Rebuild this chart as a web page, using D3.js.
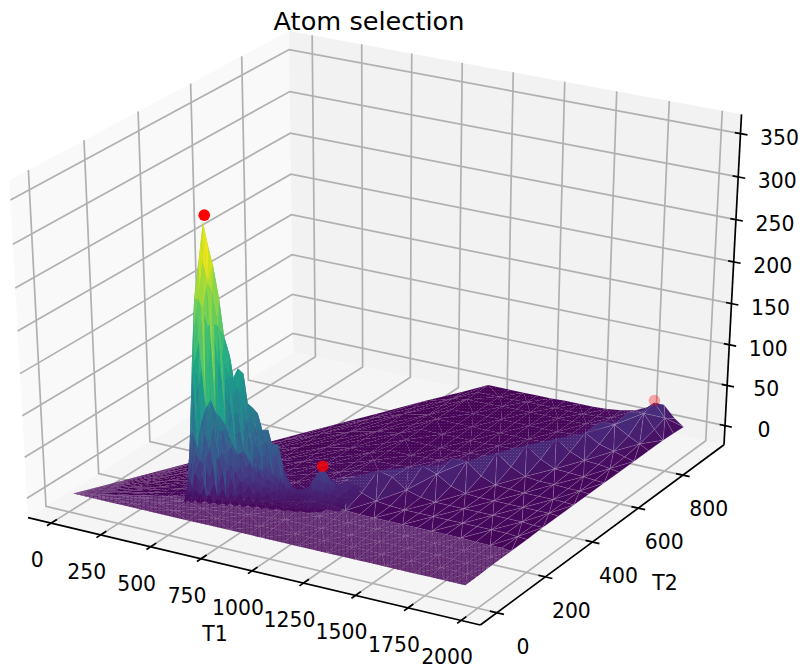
<!DOCTYPE html>
<html>
<head>
<meta charset="utf-8">
<script src="https://cdn.jsdelivr.net/npm/d3@7"></script>
<style>
  html, body { margin: 0; padding: 0; background: #fff; }
  text { font-family: "DejaVu Sans", sans-serif; fill: #000; }
</style>
</head>
<body>
<div id="chart"></div>
<script>
const titleText = "Atom selection";
const t1Ticks = [0, 250, 500, 750, 1000, 1250, 1500, 1750, 2000];
const t2Ticks = [0, 200, 400, 600, 800];
const zTicks = [0, 50, 100, 150, 200, 250, 300, 350];

// Flat sheet with the broad ridge: a column per T1, a row per share of the T2 reach
const t1Cols = [25, 100, 200, 300, 400, 500, 600, 700, 800, 900, 960, 1070, 1140, 1210, 1280, 1350, 1420, 1490, 1560, 1630, 1700, 1770, 1840, 1895, 1940];
const t2Reach = [0, 76, 177, 279, 380, 481, 583, 684, 786, 880, 940, 940, 940, 940, 940, 940, 940, 940, 940, 940, 940, 940, 940, 940, 940];
const t2Shares = [0, .05, .1, .15, .2, .27, .34, .41, .48, .55, .62, .69, .76, .83, .9, .95, 1];
const sheetZ = [
  [0, 0, 0, 0, 0, 0, 0, 0, 0, 0, 0, 0, 0, 0, 0, 0, 0],
  [0, 0, 1, 1, 1, 0, 0, 0, 0, 0, 0, 0, 0, 0, 0, 0, 0],
  [0, 1, 1, 2, 1, 1, 0, 0, 0, 0, 0, 0, 0, 0, 0, 0, 0],
  [0, 1, 2, 2, 2, 1, 1, 0, 0, 0, 0, 0, 0, 0, 0, 0, 0],
  [0, 1, 2, 2, 2, 2, 1, 1, 0, 0, 0, 0, 0, 0, 0, 0, 0],
  [0, 1, 2, 3, 3, 2, 2, 1, 1, 0, 0, 0, 0, 0, 0, 0, 0],
  [0, 1, 2, 3, 3, 3, 2, 2, 1, 1, 0, 0, 0, 0, 0, 0, 0],
  [0, 1, 2, 3, 3, 3, 2, 2, 1, 1, 1, 0, 0, 0, 0, 0, 0],
  [0, 1, 2, 3, 3, 3, 3, 2, 2, 1, 1, 1, 0, 0, 0, 0, 0],
  [0, 1, 2, 3, 4, 4, 3, 2, 2, 1, 1, 1, 0, 0, 0, 0, 0],
  [0, 1, 2, 3, 6, 13, 7, 3, 2, 1, 1, 1, 1, 0, 0, 0, 0],
  [0, 1, 2, 3, 7, 24, 13, 5, 2, 1, 1, 1, 1, 1, 0, 0, 0],
  [0, 1, 2, 3, 4, 12, 26, 11, 4, 2, 1, 1, 1, 1, 1, 0, 0],
  [0, 1, 2, 3, 3, 6, 22, 20, 7, 3, 1, 1, 1, 1, 1, 1, 0],
  [0, 1, 2, 3, 3, 4, 10, 26, 12, 4, 2, 1, 1, 1, 1, 1, 0],
  [0, 1, 2, 3, 3, 3, 5, 20, 26, 8, 3, 2, 1, 1, 1, 1, 1],
  [0, 1, 2, 3, 3, 3, 3, 9, 26, 16, 5, 2, 1, 1, 1, 1, 1],
  [0, 1, 2, 3, 3, 3, 3, 4, 12, 27, 11, 4, 2, 1, 1, 1, 1],
  [0, 1, 2, 3, 3, 3, 3, 3, 5, 14, 27, 9, 3, 2, 2, 2, 2],
  [0, 1, 2, 2, 3, 3, 3, 3, 4, 6, 14, 26, 14, 5, 4, 4, 4],
  [0, 1, 2, 2, 3, 3, 3, 3, 3, 4, 6, 14, 24, 25, 10, 7, 8],
  [0, 1, 1, 2, 2, 3, 3, 3, 3, 4, 5, 7, 14, 25, 28, 18, 16],
  [0, 1, 1, 2, 2, 3, 3, 3, 3, 3, 4, 6, 9, 15, 30, 34, 22],
  [0, 1, 1, 1, 2, 2, 2, 3, 3, 3, 3, 4, 5, 8, 13, 18, 8],
  [0, 0, 1, 1, 1, 1, 2, 2, 2, 2, 2, 2, 2, 2, 2, 1, 0]
];
// Rows below this index (and above row 4) show the wide triangles of the reference
const wideMeshTop = [4, 4, 4, 4, 4, 4, 4, 4, 4, 4, 4, 5, 6, 6, 7, 8, 8, 9, 10, 11, 13, 14, 16, 17, 17];

// The tall narrow peak and the small hill next to it
const spikeT1 = [480, 490, 503, 515, 530, 552, 572, 590, 607, 627, 643, 664, 676, 694, 716, 730, 750, 769, 786, 809, 823, 848, 867, 894, 918, 943, 970, 995, 1023, 1050, 1075, 1100, 1130];
const spikeT2Ratio = [.155, .158, .161, .164, .167, .17, .174, .18, .19, .21, .235];
const spikeZ = [
  [0, 0, 0, 0, 0, 0, 0, 0, 0, 0, 0],
  [0, 2, 4, 7, 11, 15, 20, 25, 30, 12, 0],
  [2, 6, 12, 22, 34, 48, 62, 76, 90, 35, 0],
  [0, 6, 14, 30, 50, 80, 110, 140, 170, 60, 2],
  [3, 16, 36, 62, 95, 130, 165, 205, 240, 90, 0],
  [0, 10, 25, 50, 90, 140, 190, 240, 285, 110, 3],
  [4, 22, 50, 85, 130, 180, 230, 285, 328, 120, 0],
  [0, 12, 30, 65, 110, 160, 210, 260, 300, 105, 2],
  [3, 26, 55, 95, 135, 175, 215, 250, 278, 100, 0],
  [0, 10, 25, 55, 90, 130, 170, 210, 241, 90, 2],
  [3, 20, 40, 62, 88, 115, 145, 175, 198, 75, 0],
  [0, 8, 20, 42, 65, 95, 125, 152, 175, 60, 3],
  [4, 18, 32, 50, 70, 92, 112, 132, 150, 55, 0],
  [0, 8, 20, 40, 60, 85, 110, 138, 161, 60, 2],
  [3, 16, 30, 48, 68, 90, 110, 135, 155, 50, 0],
  [0, 7, 16, 30, 45, 62, 80, 100, 120, 40, 3],
  [3, 14, 25, 38, 52, 68, 82, 100, 115, 42, 0],
  [0, 6, 15, 28, 42, 58, 74, 92, 109, 35, 2],
  [3, 12, 20, 30, 42, 52, 64, 76, 89, 30, 0],
  [0, 6, 13, 24, 34, 48, 60, 76, 90, 30, 2],
  [2, 10, 17, 25, 34, 43, 52, 62, 73, 25, 0],
  [0, 5, 11, 20, 30, 40, 50, 62, 73, 22, 2],
  [2, 6, 11, 16, 22, 28, 33, 39, 45, 14, 0],
  [0, 3, 6, 9, 12, 15, 18, 21, 24, 8, 1],
  [1, 4, 6, 8, 10, 12, 14, 17, 20, 8, 0],
  [0, 3, 5, 7, 9, 11, 14, 16, 19, 8, 1],
  [1, 4, 6, 9, 11, 14, 17, 21, 25, 10, 0],
  [0, 4, 8, 12, 16, 21, 26, 32, 38, 14, 2],
  [2, 8, 13, 19, 25, 31, 37, 43, 48, 20, 2],
  [2, 6, 10, 14, 18, 22, 27, 31, 36, 18, 12],
  [6, 7, 9, 12, 14, 17, 20, 24, 28, 24, 24],
  [5, 6, 7, 8, 9, 11, 13, 15, 17, 17, 18],
  [5, 6, 6, 7, 7, 8, 9, 10, 11, 13, 15]
];

// Selected atoms (red dots), the farther the paler
const atomT1 = [575, 1023, 1854];
const atomT2 = [112, 194, 880];
const atomZ = [335, 50, 40];
const atomOpacity = [1, 0.8, 0.32];

const width = 805, height = 667;

// Axis limits of the box
const x3 = d3.scaleLinear().domain([-118, 2090]).range([0, 1]);
const y3 = d3.scaleLinear().domain([-67, 990]).range([0, 1]);
const z3 = d3.scaleLinear().domain([-24, 372]).range([0, 1.012]);

// Camera: elevation 30, azimuth -60, distance 10
const camU = [0.866, 0.5, 0];
const camV = [-0.25, 0.433, 0.866];
const camN = [0.433, -0.75, 0.5];
const dot = (a, b) => a[0] * b[0] + a[1] * b[1] + a[2] * b[2];

function rawProject(a, b, c) {
  const d = [a - 0.5, b - 0.5, c - 0.5];
  const w = 10 - dot(d, camN);
  return { x: dot(d, camU) / w, y: dot(d, camV) / w, depth: w };
}
const sx = d3.scaleLinear()
  .domain([rawProject(0, 0, 0).x, rawProject(1, 1, 0).x])
  .range([28, 724]);
const sy = d3.scaleLinear()
  .domain([rawProject(0, 1, 0).y, rawProject(1, 0, 0).y])
  .range([352, 625]);

function project(t1, t2, z) {
  const p = rawProject(x3(t1), y3(t2), z3(z));
  return { x: sx(p.x), y: sy(p.y), depth: p.depth };
}
const [t1Lo, t1Hi] = x3.domain();
const [t2Lo, t2Hi] = y3.domain();
const [zLo, zHi] = z3.domain();

const svg = d3.select("#chart").append("svg")
  .attr("width", width)
  .attr("height", height)
  .style("display", "block");

// Textures for the parts where the reference mesh is too fine to see single triangles
const defs = svg.append("defs");
const stripPattern = defs.append("pattern").attr("id", "strip-mesh")
  .attr("patternUnits", "userSpaceOnUse").attr("width", 4).attr("height", 3);
stripPattern.append("rect").attr("width", 4).attr("height", 3).attr("fill", "#fff").attr("opacity", 0.2);
stripPattern.append("rect").attr("x", 1).attr("y", 1).attr("width", 1).attr("height", 2).attr("fill", "#440154").attr("opacity", 0.45);
const backPattern = defs.append("pattern").attr("id", "back-mesh")
  .attr("patternUnits", "userSpaceOnUse").attr("width", 3).attr("height", 3);
backPattern.append("rect").attr("width", 1.2).attr("height", 1).attr("fill", "#fff").attr("opacity", 0.16);
backPattern.append("rect").attr("x", 1.5).attr("y", 1.5).attr("width", 1).attr("height", 1).attr("fill", "#fff").attr("opacity", 0.08);

const toPoints = (corners) => corners.map((c) => { const p = project(c[0], c[1], c[2]); return p.x + "," + p.y; }).join(" ");

// Panes
const panes = [
  { fill: "#f9f9f9", corners: [[t1Lo, t2Lo, zLo], [t1Lo, t2Hi, zLo], [t1Lo, t2Hi, zHi], [t1Lo, t2Lo, zHi]] },
  { fill: "#f2f2f2", corners: [[t1Lo, t2Hi, zLo], [t1Hi, t2Hi, zLo], [t1Hi, t2Hi, zHi], [t1Lo, t2Hi, zHi]] },
  { fill: "#f5f5f5", corners: [[t1Lo, t2Lo, zLo], [t1Hi, t2Lo, zLo], [t1Hi, t2Hi, zLo], [t1Lo, t2Hi, zLo]] }
];
svg.append("g").selectAll("polygon").data(panes).enter().append("polygon")
  .attr("points", (d) => toPoints(d.corners))
  .attr("fill", (d) => d.fill);

// Grid lines run over two panes
const gridPaths = []
  .concat(t1Ticks.map((t) => [[t, t2Lo, zLo], [t, t2Hi, zLo], [t, t2Hi, zHi]]))
  .concat(t2Ticks.map((t) => [[t1Hi, t, zLo], [t1Lo, t, zLo], [t1Lo, t, zHi]]))
  .concat(zTicks.map((t) => [[t1Lo, t2Lo, t], [t1Lo, t2Hi, t], [t1Hi, t2Hi, t]]));
svg.append("g").selectAll("polyline").data(gridPaths).enter().append("polyline")
  .attr("points", toPoints)
  .attr("fill", "none")
  .attr("stroke", "#b0b0b0")
  .attr("stroke-width", 1.7);

// Axis lines
const axisLines = [
  [[t1Lo, t2Lo, zLo], [t1Hi, t2Lo, zLo]],
  [[t1Hi, t2Lo, zLo], [t1Hi, t2Hi, zLo]],
  [[t1Hi, t2Hi, zLo], [t1Hi, t2Hi, zHi]]
];
svg.append("g").selectAll("polyline").data(axisLines).enter().append("polyline")
  .attr("points", toPoints)
  .attr("fill", "none")
  .attr("stroke", "#000")
  .attr("stroke-width", 1.7);

// Tick marks
const t2Span = t2Hi - t2Lo, t1Span = t1Hi - t1Lo;
const tickMarks = []
  .concat(t1Ticks.map((t) => [[t, t2Lo - 0.015 * t2Span, zLo], [t, t2Lo + 0.02 * t2Span, zLo]]))
  .concat(t2Ticks.map((t) => [[t1Hi - 0.015 * t1Span, t, zLo], [t1Hi + 0.015 * t1Span, t, zLo]]))
  .concat(zTicks.map((t) => [[t1Hi - 0.012 * t1Span, t2Hi, t], [t1Hi + 0.015 * t1Span, t2Hi, t]]));
svg.append("g").selectAll("polyline").data(tickMarks).enter().append("polyline")
  .attr("points", toPoints)
  .attr("fill", "none")
  .attr("stroke", "#000")
  .attr("stroke-width", 1.7);

// Surface: triangles of the sheet first, the peak over them
const color = d3.scaleSequentialPow(d3.interpolateViridis).exponent(0.85).domain([0, 305]);

function triangle(a, b, c, texture, seam) {
  const pts = [a, b, c].map((v) => project(v[0], v[1], v[2]));
  return {
    points: pts.map((p) => p.x + "," + p.y).join(" "),
    depth: d3.mean(pts, (p) => p.depth),
    value: d3.mean([a, b, c], (v) => v[2]),
    texture: texture,
    seam: seam
  };
}

const sheetTris = [];
for (let i = 0; i < t1Cols.length - 1; i++) {
  for (let j = 0; j < t2Shares.length - 1; j++) {
    const node = (ci, rj) => [t1Cols[ci], t2Reach[ci] * t2Shares[rj], sheetZ[ci][rj]];
    const a = node(i, j), b = node(i + 1, j), c = node(i + 1, j + 1), d = node(i, j + 1);
    let texture = null;
    if (j < 4) texture = "url(#strip-mesh)";
    else if (j >= wideMeshTop[i]) texture = "url(#back-mesh)";
    const seam = texture === null;
    if ((i + j) % 2 === 0) {
      sheetTris.push(triangle(a, b, c, texture, seam), triangle(a, c, d, texture, seam));
    } else {
      sheetTris.push(triangle(a, b, d, texture, seam), triangle(b, c, d, texture, seam));
    }
  }
}

const spikeTris = [];
for (let i = 0; i < spikeT1.length - 1; i++) {
  for (let j = 0; j < spikeT2Ratio.length - 1; j++) {
    const node = (ci, rj) => [spikeT1[ci], spikeT1[ci] * spikeT2Ratio[rj], spikeZ[ci][rj]];
    const a = node(i, j), b = node(i + 1, j), c = node(i + 1, j + 1), d = node(i, j + 1);
    if ((i + j) % 2 === 0) {
      spikeTris.push(triangle(a, b, c, null, false), triangle(a, c, d, null, false));
    } else {
      spikeTris.push(triangle(a, b, d, null, false), triangle(b, c, d, null, false));
    }
  }
}

function drawTris(tris) {
  // farthest first
  tris.sort((p, q) => q.depth - p.depth);
  const g = svg.append("g");
  tris.forEach((t) => {
    const poly = g.append("polygon").attr("points", t.points).attr("fill", color(t.value));
    if (t.seam) poly.attr("stroke", "#fff").attr("stroke-opacity", 0.16).attr("stroke-width", 0.7);
    if (t.texture) g.append("polygon").attr("points", t.points).attr("fill", t.texture);
  });
}
drawTris(sheetTris);
drawTris(spikeTris);

// Selected atoms
svg.append("g").selectAll("circle").data(atomT1).enter().append("circle")
  .attr("cx", (d, i) => project(atomT1[i], atomT2[i], atomZ[i]).x)
  .attr("cy", (d, i) => project(atomT1[i], atomT2[i], atomZ[i]).y)
  .attr("r", 5.8)
  .attr("fill", "#f00")
  .attr("opacity", (d, i) => atomOpacity[i]);

// Texts
const tickFont = 20.4;
function tickLabels(ticks, place, dx, dy) {
  svg.append("g").selectAll("text").data(ticks).enter().append("text")
    .attr("x", (d) => place(d).x + dx)
    .attr("y", (d) => place(d).y + dy)
    .attr("text-anchor", "middle")
    .attr("dominant-baseline", "central")
    .attr("font-size", tickFont)
    .text((d) => d);
}
tickLabels(t1Ticks, (t) => project(t, t2Lo, zLo), -14, 37);
tickLabels(t2Ticks, (t) => project(t1Hi, t, zLo), 26, 34);
tickLabels(zTicks, (t) => project(t1Hi, t2Hi, t), 39, 4);

svg.append("text").attr("x", 215).attr("y", 634)
  .attr("text-anchor", "middle").attr("dominant-baseline", "central")
  .attr("font-size", tickFont).text("T1");
svg.append("text").attr("x", 665).attr("y", 583)
  .attr("text-anchor", "middle").attr("dominant-baseline", "central")
  .attr("font-size", tickFont).text("T2");
svg.append("text").attr("x", 369).attr("y", 21)
  .attr("text-anchor", "middle").attr("dominant-baseline", "central")
  .attr("font-size", 25.6).text(titleText);
</script>
</body>
</html>
